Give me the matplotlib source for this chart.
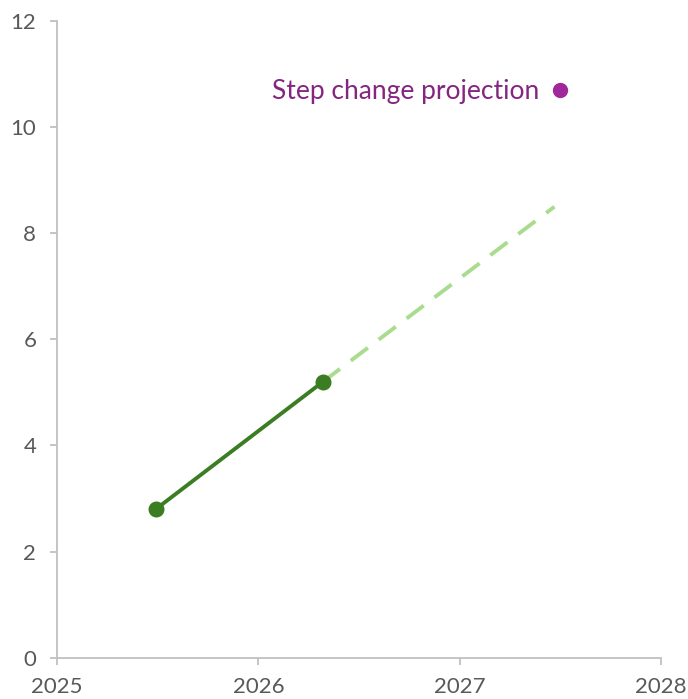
import matplotlib.pyplot as plt

# observed series
obs_x = [2025.49, 2026.32]
obs_y = [2.8, 5.2]

# trend continuation
trend_x = [2026.32, 2027.47]
trend_y = [5.2, 8.5]

# step change point
step_x = [2027.5]
step_y = [10.7]
step_label = "Step change projection"

xticks = [2025, 2026, 2027, 2028]
yticks = [0, 2, 4, 6, 8, 10, 12]

plt.rcParams['font.family'] = ['Lato', 'DejaVu Sans']

fig = plt.figure(figsize=(6.88, 6.99), dpi=100)
ax = fig.add_axes([0.083, 0.059, 0.878, 0.911])

ax.plot(trend_x, trend_y, color='#a9dc8f', lw=2.8, dashes=(5.5, 3.5),
        solid_capstyle='butt')
ax.plot(obs_x, obs_y, color='#3a7d22', lw=2.8, marker='o', markersize=10.5)
ax.plot(step_x, step_y, 'o', color='#a0289a', markersize=10)
ax.annotate(step_label, (step_x[0], step_y[0]), xytext=(-15, -1),
            textcoords='offset points', ha='right', va='center',
            color='#84267f', fontsize=19)

ax.set_xlim(2025, 2028)
ax.set_ylim(0, 12)
ax.set_xticks(xticks)
ax.set_yticks(yticks)
for s in ['top', 'right']:
    ax.spines[s].set_visible(False)
for s in ['left', 'bottom']:
    ax.spines[s].set_color('#c0c0c0')
    ax.spines[s].set_linewidth(1.3)
ax.tick_params(colors='#c0c0c0', labelcolor='#595959', labelsize=16,
               length=5, width=1.3)
ax.tick_params(axis='y', pad=10)
ax.tick_params(axis='x', pad=9)

fig.savefig('out.png', dpi=100)
